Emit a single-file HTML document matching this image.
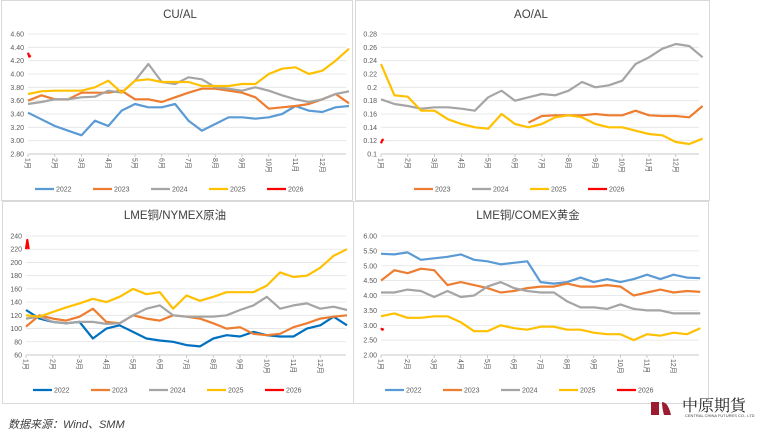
<!DOCTYPE html>
<html><head><meta charset="utf-8">
<style>
body{margin:0;width:777px;height:434px;background:#fff;overflow:hidden;font-family:"Liberation Sans","Noto Sans CJK SC",sans-serif;}
svg{position:absolute;left:0;top:0;}
</style></head>
<body>
<svg id="s" width="777" height="434"></svg>
<script>
// ---- data (index i => month i/2, i=0 Jan1 ... 24 Dec end) ----
const yearLabels = ["2022","2023","2024","2025","2026"];
const cuAl2022 = [3.42,3.32,3.22,3.15,3.08,3.30,3.22,3.45,3.55,3.50,3.50,3.55,3.30,3.15,3.25,3.35,3.35,3.33,3.35,3.40,3.52,3.45,3.43,3.50,3.52];
const cuAl2023 = [3.60,3.68,3.62,3.62,3.72,3.72,3.72,3.75,3.62,3.62,3.58,3.65,3.72,3.78,3.78,3.75,3.72,3.65,3.48,3.50,3.52,3.55,3.62,3.70,3.56];
const cuAl2024 = [3.55,3.58,3.62,3.62,3.65,3.66,3.75,3.72,3.90,4.15,3.88,3.85,3.95,3.92,3.80,3.78,3.75,3.80,3.75,3.68,3.62,3.58,3.62,3.70,3.74];
const cuAl2025 = [3.70,3.74,3.75,3.75,3.75,3.80,3.90,3.72,3.90,3.92,3.88,3.88,3.88,3.82,3.82,3.82,3.85,3.85,4.00,4.08,4.10,4.00,4.05,4.20,4.38];
const cuAl2026 = [4.32,4.26,4.28];
const aoAl2023 = [null,null,null,null,null,null,null,null,null,null,null,0.147,0.157,0.158,0.158,0.158,0.160,0.158,0.158,0.165,0.158,0.157,0.157,0.155,0.172];
const aoAl2024 = [0.182,0.175,0.172,0.168,0.170,0.170,0.168,0.165,0.185,0.195,0.180,0.185,0.190,0.188,0.195,0.208,0.200,0.203,0.210,0.235,0.245,0.258,0.265,0.262,0.245];
const aoAl2025 = [0.235,0.188,0.186,0.165,0.165,0.152,0.145,0.140,0.138,0.160,0.145,0.140,0.145,0.155,0.158,0.155,0.145,0.140,0.140,0.135,0.130,0.128,0.118,0.115,0.123];
const aoAl2026 = [0.116,0.121,0.122];
const nym2022 = [128,115,110,108,110,85,100,105,95,85,82,80,75,73,85,90,88,95,90,88,88,100,105,118,105];
const nym2023 = [103,120,115,112,118,130,110,108,120,115,112,120,118,115,108,100,102,92,90,92,102,108,115,118,120];
const nym2024 = [115,118,110,108,110,110,107,108,120,130,135,120,118,118,118,120,128,135,148,130,135,138,130,133,128];
const nym2025 = [120,118,125,132,138,145,140,148,160,152,155,130,150,142,148,155,155,155,165,185,178,180,192,210,220];
const nym2026 = [220,234,220];
const cmx2022 = [5.40,5.38,5.45,5.20,5.25,5.30,5.38,5.20,5.15,5.05,5.10,5.15,4.45,4.40,4.45,4.60,4.45,4.55,4.45,4.55,4.70,4.55,4.70,4.60,4.58];
const cmx2023 = [4.50,4.85,4.75,4.90,4.85,4.35,4.45,4.35,4.25,4.10,4.15,4.25,4.30,4.30,4.40,4.30,4.30,4.35,4.30,4.00,4.10,4.20,4.10,4.15,4.12];
const cmx2024 = [4.10,4.10,4.20,4.15,3.95,4.15,3.95,4.00,4.30,4.45,4.25,4.15,4.10,4.10,3.80,3.60,3.60,3.55,3.70,3.55,3.50,3.50,3.40,3.40,3.40];
const cmx2025 = [3.30,3.40,3.25,3.25,3.30,3.30,3.10,2.80,2.80,3.00,2.90,2.85,2.95,2.95,2.85,2.85,2.75,2.70,2.70,2.50,2.70,2.65,2.75,2.70,2.90];
const cmx2026 = [2.90,2.85,2.88];
const cuAlTicks = ["2.80","3.00","3.20","3.40","3.60","3.80","4.00","4.20","4.40","4.60"];
const aoAlTicks = ["0.1","0.12","0.14","0.16","0.18","0.2","0.22","0.24","0.26","0.28"];
const nymTicks = ["60","80","100","120","140","160","180","200","220","240"];
const cmxTicks = ["2.00","2.50","3.00","3.50","4.00","4.50","5.00","5.50","6.00"];
const monthLabels = ["1月","2月","3月","4月","5月","6月","7月","8月","9月","10月","11月","12月"];

const NS="http://www.w3.org/2000/svg";
const svg=document.getElementById('s');
function mk(tag,attrs,parent){const e=document.createElementNS(NS,tag);for(const k in attrs)e.setAttribute(k,attrs[k]);(parent||svg).appendChild(e);return e;}

function chart(cfg){
  const g=mk('g',{});
  
  
  const b=mk('rect',{x:cfg.box[0],y:cfg.box[1],width:cfg.box[2],height:cfg.box[3],fill:'#fff',stroke:'#d9d9d9','stroke-width':1},g);
  
  
  const t=mk('text',{x:cfg.titleX,y:cfg.titleY,'font-size':11.5,fill:'#404040','text-anchor':'middle'},g);
  t.textContent=cfg.title;
  
  
  const min=parseFloat(cfg.ticks[0]),max=parseFloat(cfg.ticks[cfg.ticks.length-1]);
  const yS=v=>cfg.yb-(v-min)/(max-min)*(cfg.yb-cfg.yt);
  const xS=i=>cfg.x0+(i/2)*cfg.mw;
  cfg.ticks.forEach(tk=>{
    const y=yS(parseFloat(tk));
    const l=mk('line',{x1:cfg.x0,x2:cfg.x1,y1:y,y2:y,stroke:'#e3e3e3','stroke-width':0.8},g);
    
    
    const tx=mk('text',{x:cfg.x0-4,y:y+2.5,'font-size':7,fill:'#595959','text-anchor':'end'},g);
    tx.textContent=tk;
    
    
  });
  const ax=mk('line',{x1:cfg.x0,x2:cfg.x1,y1:cfg.yb,y2:cfg.yb,stroke:'#bfbfbf','stroke-width':0.8},g);
  
  
  monthLabels.forEach((m,k)=>{
    const x=cfg.x0+k*cfg.mw;
    mk('line',{x1:x,x2:x,y1:cfg.yb,y2:cfg.yb+3,stroke:'#bfbfbf','stroke-width':0.8},g);
    const tx=mk('text',{x:0,y:0,'font-size':7,fill:'#595959',transform:`translate(${x-2.5},${cfg.yb+4}) rotate(90)`},g);
    tx.textContent=m;
    
    
  });
  cfg.series.forEach(s=>{
    let d='';let started=false;
    s.data.forEach((v,i)=>{
      if(v==null){started=false;return;}
      const xi=s.small?i*0.1:i;
      d+=(started?'L':'M')+xS(xi).toFixed(1)+','+yS(v).toFixed(1);started=true;
    });
    const p=mk('path',{d:d,fill:'none',stroke:s.color,'stroke-width':2.2,'stroke-linejoin':'round'},g);
    
    
  });
  // legend
  const items=cfg.series;
  const w=58;let lx=cfg.legCx-items.length*w/2;
  items.forEach(s=>{
    const l=mk('line',{x1:lx,x2:lx+19,y1:cfg.legY,y2:cfg.legY,stroke:s.color,'stroke-width':2.2},g);
    
    
    const tx=mk('text',{x:lx+21,y:cfg.legY+2.5,'font-size':7,fill:'#595959'},g);
    tx.textContent=s.label;
    
    
    lx+=w;
  });
}
const C={a:'#5b9bd5',a2:'#0070c0',b:'#ed7d31',c:'#a5a5a5',d:'#ffc000',e:'#ff0000'};
chart({name:'cu-al-chart',box:[1.5,0.5,351,200],title:'CU/AL',titleX:180,titleY:18,ticks:cuAlTicks,x0:28,x1:346,yt:34,yb:154,mw:26.75,legY:189,legCx:180,
 series:[{label:yearLabels[0],data:cuAl2022,color:C.a},{label:yearLabels[1],data:cuAl2023,color:C.b},{label:yearLabels[2],data:cuAl2024,color:C.c},{label:yearLabels[3],data:cuAl2025,color:C.d},{label:yearLabels[4],data:cuAl2026,color:C.e,small:true}]});
chart({name:'ao-al-chart',box:[355.5,0.5,354,200],title:'AO/AL',titleX:531,titleY:18,ticks:aoAlTicks,x0:381,x1:699,yt:34,yb:154,mw:26.8,legY:189,legCx:530,
 series:[{label:yearLabels[1],data:aoAl2023,color:C.b},{label:yearLabels[2],data:aoAl2024,color:C.c},{label:yearLabels[3],data:aoAl2025,color:C.d},{label:yearLabels[4],data:aoAl2026,color:C.e,small:true}]});
chart({name:'lme-nymex-chart',box:[2.5,201.5,351,202],title:'LME铜/NYMEX原油',titleX:175,titleY:219,ticks:nymTicks,x0:26,x1:346,yt:236,yb:355,mw:26.75,legY:390,legCx:178,
 series:[{label:yearLabels[0],data:nym2022,color:C.a2},{label:yearLabels[1],data:nym2023,color:C.b},{label:yearLabels[2],data:nym2024,color:C.c},{label:yearLabels[3],data:nym2025,color:C.d},{label:yearLabels[4],data:nym2026,color:C.e,small:true}]});
chart({name:'lme-comex-chart',box:[353.5,201.5,355,202],title:'LME铜/COMEX黄金',titleX:528,titleY:219,ticks:cmxTicks,x0:381,x1:699,yt:236,yb:355,mw:26.6,legY:390,legCx:530,
 series:[{label:yearLabels[0],data:cmx2022,color:C.a},{label:yearLabels[1],data:cmx2023,color:C.b},{label:yearLabels[2],data:cmx2024,color:C.c},{label:yearLabels[3],data:cmx2025,color:C.d},{label:yearLabels[4],data:cmx2026,color:C.e,small:true}]});

const src=mk('text',{x:8,y:428,'font-size':11,fill:'#404040','font-style':'italic'});
src.textContent='数据来源：Wind、SMM';


const logo=mk('g',{});


mk('rect',{x:651,y:402,width:8,height:13,fill:'#9b1b30'},logo);
mk('path',{d:'M662,402 Q668,402 671,415 L664,415 Q662,408 662,402Z',fill:'#9b1b30'},logo);
const lt=mk('text',{x:682,y:411,'font-size':16,fill:'#222','font-family':'"Noto Serif CJK SC",serif'},logo);
lt.textContent='中原期貨';
const ls=mk('text',{x:685,y:417,'font-size':4,fill:'#444'},logo);
ls.textContent='CENTRAL CHINA FUTURES CO., LTD';
</script>
</body></html>
